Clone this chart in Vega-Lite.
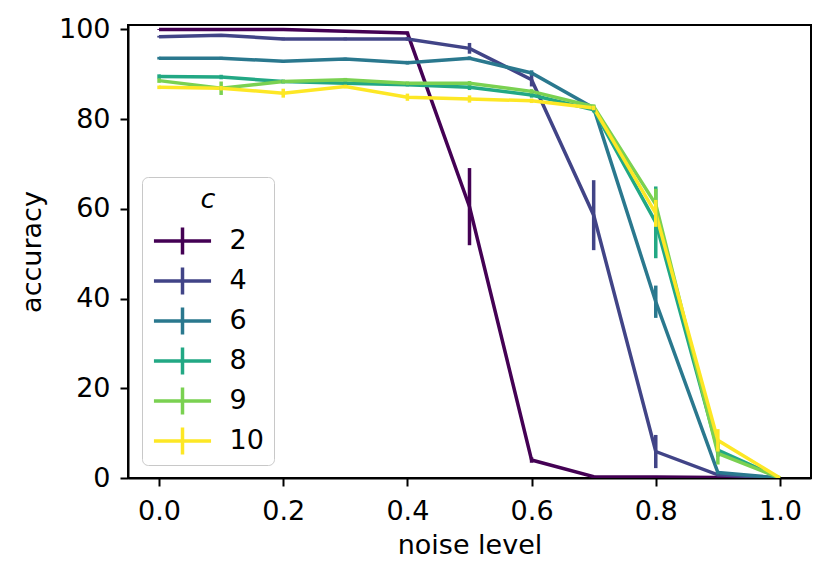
{
  "$schema": "https://vega.github.io/schema/vega-lite/v6.json",
  "width": 683,
  "height": 453,
  "autosize": "none",
  "padding": {"left": 128, "top": 25, "right": 20, "bottom": 103},
  "background": "white",
  "config": {
    "font": "DejaVu Sans",
    "view": {"stroke": "black", "strokeWidth": 2},
    "axis": {
      "grid": false,
      "domainColor": "black",
      "domainWidth": 2,
      "tickColor": "black",
      "tickWidth": 2,
      "tickSize": 8,
      "labelColor": "black",
      "labelFontSize": 27,
      "labelFont": "DejaVu Sans",
      "titleColor": "black",
      "titleFont": "DejaVu Sans",
      "titleFontSize": 27,
      "titleFontWeight": "normal"
    }
  },
  "data": {
    "values": [
      {"noise": 0.0, "acc": 100.0, "err": 0.1, "c": "2"},
      {"noise": 0.1, "acc": 100.0, "err": 0.1, "c": "2"},
      {"noise": 0.2, "acc": 100.0, "err": 0.1, "c": "2"},
      {"noise": 0.3, "acc": 99.6, "err": 0.2, "c": "2"},
      {"noise": 0.4, "acc": 99.2, "err": 0.3, "c": "2"},
      {"noise": 0.5, "acc": 60.5, "err": 8.6, "c": "2"},
      {"noise": 0.6, "acc": 4.0, "err": 0.6, "c": "2"},
      {"noise": 0.7, "acc": 0.3, "err": 0.2, "c": "2"},
      {"noise": 0.8, "acc": 0.2, "err": 0.1, "c": "2"},
      {"noise": 0.9, "acc": 0.1, "err": 0.1, "c": "2"},
      {"noise": 1.0, "acc": 0.0, "err": 0.0, "c": "2"},
      {"noise": 0.0, "acc": 98.4, "err": 0.2, "c": "4"},
      {"noise": 0.1, "acc": 98.7, "err": 0.2, "c": "4"},
      {"noise": 0.2, "acc": 97.9, "err": 0.3, "c": "4"},
      {"noise": 0.3, "acc": 97.9, "err": 0.3, "c": "4"},
      {"noise": 0.4, "acc": 97.9, "err": 0.4, "c": "4"},
      {"noise": 0.5, "acc": 95.8, "err": 1.2, "c": "4"},
      {"noise": 0.6, "acc": 88.8, "err": 1.5, "c": "4"},
      {"noise": 0.7, "acc": 58.6, "err": 7.8, "c": "4"},
      {"noise": 0.8, "acc": 5.9, "err": 3.7, "c": "4"},
      {"noise": 0.9, "acc": 0.7, "err": 0.3, "c": "4"},
      {"noise": 1.0, "acc": 0.0, "err": 0.0, "c": "4"},
      {"noise": 0.0, "acc": 93.6, "err": 0.3, "c": "6"},
      {"noise": 0.1, "acc": 93.6, "err": 0.3, "c": "6"},
      {"noise": 0.2, "acc": 92.9, "err": 0.3, "c": "6"},
      {"noise": 0.3, "acc": 93.4, "err": 0.3, "c": "6"},
      {"noise": 0.4, "acc": 92.6, "err": 0.4, "c": "6"},
      {"noise": 0.5, "acc": 93.6, "err": 0.4, "c": "6"},
      {"noise": 0.6, "acc": 90.3, "err": 0.6, "c": "6"},
      {"noise": 0.7, "acc": 82.5, "err": 0.6, "c": "6"},
      {"noise": 0.8, "acc": 39.3, "err": 3.6, "c": "6"},
      {"noise": 0.9, "acc": 1.2, "err": 0.4, "c": "6"},
      {"noise": 1.0, "acc": 0.0, "err": 0.0, "c": "6"},
      {"noise": 0.0, "acc": 89.5, "err": 0.5, "c": "8"},
      {"noise": 0.1, "acc": 89.4, "err": 0.5, "c": "8"},
      {"noise": 0.2, "acc": 88.4, "err": 0.4, "c": "8"},
      {"noise": 0.3, "acc": 88.0, "err": 0.4, "c": "8"},
      {"noise": 0.4, "acc": 87.7, "err": 0.4, "c": "8"},
      {"noise": 0.5, "acc": 87.1, "err": 0.6, "c": "8"},
      {"noise": 0.6, "acc": 85.4, "err": 0.6, "c": "8"},
      {"noise": 0.7, "acc": 82.1, "err": 0.6, "c": "8"},
      {"noise": 0.8, "acc": 57.0, "err": 8.0, "c": "8"},
      {"noise": 0.9, "acc": 6.2, "err": 1.5, "c": "8"},
      {"noise": 1.0, "acc": 0.0, "err": 0.0, "c": "8"},
      {"noise": 0.0, "acc": 88.6, "err": 0.5, "c": "9"},
      {"noise": 0.1, "acc": 86.9, "err": 1.5, "c": "9"},
      {"noise": 0.2, "acc": 88.4, "err": 0.4, "c": "9"},
      {"noise": 0.3, "acc": 88.8, "err": 0.4, "c": "9"},
      {"noise": 0.4, "acc": 88.0, "err": 0.4, "c": "9"},
      {"noise": 0.5, "acc": 88.0, "err": 0.5, "c": "9"},
      {"noise": 0.6, "acc": 86.2, "err": 0.5, "c": "9"},
      {"noise": 0.7, "acc": 82.8, "err": 0.5, "c": "9"},
      {"noise": 0.8, "acc": 61.0, "err": 3.5, "c": "9"},
      {"noise": 0.9, "acc": 5.5, "err": 2.5, "c": "9"},
      {"noise": 1.0, "acc": 0.0, "err": 0.0, "c": "9"},
      {"noise": 0.0, "acc": 87.1, "err": 0.4, "c": "10"},
      {"noise": 0.1, "acc": 86.9, "err": 0.5, "c": "10"},
      {"noise": 0.2, "acc": 85.8, "err": 1.0, "c": "10"},
      {"noise": 0.3, "acc": 87.3, "err": 0.4, "c": "10"},
      {"noise": 0.4, "acc": 84.9, "err": 0.8, "c": "10"},
      {"noise": 0.5, "acc": 84.5, "err": 0.8, "c": "10"},
      {"noise": 0.6, "acc": 84.1, "err": 0.5, "c": "10"},
      {"noise": 0.7, "acc": 82.5, "err": 0.5, "c": "10"},
      {"noise": 0.8, "acc": 59.0, "err": 3.0, "c": "10"},
      {"noise": 0.9, "acc": 8.4, "err": 2.5, "c": "10"},
      {"noise": 1.0, "acc": 0.0, "err": 0.0, "c": "10"}
    ]
  },
  "transform": [
    {"calculate": "datum.acc - datum.err", "as": "lo"},
    {"calculate": "datum.acc + datum.err", "as": "hi"}
  ],
  "encoding": {
    "x": {
      "field": "noise",
      "type": "quantitative",
      "title": "noise level",
      "scale": {"domain": [-0.05, 1.05], "nice": false, "zero": false},
      "axis": {"values": [0, 0.2, 0.4, 0.6, 0.8, 1.0], "format": ".1f", "labelPadding": 12, "titlePadding": 8}
    },
    "color": {
      "field": "c",
      "type": "nominal",
      "scale": {
        "domain": ["2", "4", "6", "8", "9", "10"],
        "range": ["#440154", "#414487", "#2a788e", "#22a884", "#7ad151", "#fde725"]
      },
      "legend": {
        "orient": "none",
        "legendX": 14,
        "legendY": 152,
        "title": "c",
        "titleFontStyle": "italic",
        "titleFontWeight": "normal",
        "titleFontSize": 27,
        "titleColor": "black",
        "titleAnchor": "middle",
        "titlePadding": 13,
        "symbolType": "M-2.04,0H2.04M0,-0.96V0.96",
        "symbolSize": 784,
        "symbolOffset": 14.5,
        "symbolStrokeWidth": 3.5,
        "symbolFillColor": "transparent",
        "clipHeight": 28,
        "labelFontSize": 27,
        "labelColor": "black",
        "labelOffset": 31,
        "rowPadding": 12,
        "padding": 10,
        "strokeColor": "#c8c8c8",
        "cornerRadius": 6,
        "fillColor": "rgba(255,255,255,0.8)"
      }
    }
  },
  "layer": [
    {
      "mark": {"type": "line", "strokeWidth": 3.5, "clip": true},
      "encoding": {
        "y": {
          "field": "acc",
          "type": "quantitative",
          "title": "accuracy",
          "scale": {"domain": [0, 101], "nice": false},
          "axis": {"values": [0, 20, 40, 60, 80, 100], "labelPadding": 10, "titlePadding": 12}
        }
      }
    },
    {
      "mark": {"type": "rule", "strokeWidth": 3.5, "clip": true},
      "encoding": {
        "y": {"field": "lo", "type": "quantitative"},
        "y2": {"field": "hi"}
      }
    }
  ]
}
